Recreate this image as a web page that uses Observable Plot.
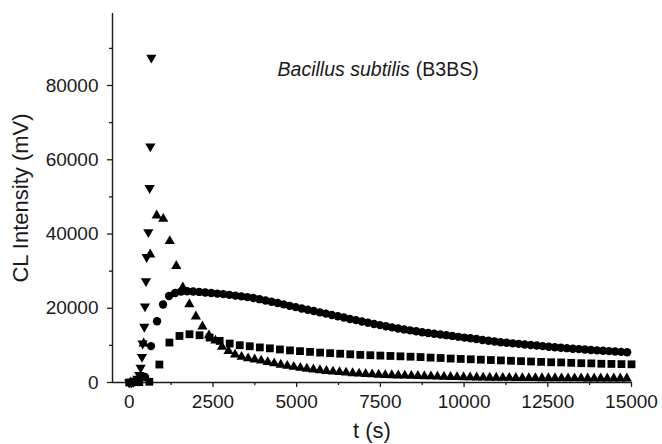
<!DOCTYPE html>
<html>
<head>
<meta charset="utf-8">
<script src="https://cdn.jsdelivr.net/npm/d3@7"></script>
<script src="https://cdn.jsdelivr.net/npm/@observablehq/plot@0.6"></script>
<style>
  html, body { margin: 0; padding: 0; background: #fff; }
  #chart { width: 662px; height: 444px; }
</style>
</head>
<body>
<div id="chart"></div>
<script>
// ---- Data: [t (s), CL intensity (mV)] ----
const squareSeries = [
  [0, 0], [300, 100], [600, 200], [900, 4840], [1200, 10760], [1500, 12540], [1800, 13000],
  [2100, 12730], [2400, 12110], [2700, 11200], [3000, 10490], [3300, 10040], [3600, 9770],
  [3900, 9450], [4200, 9200], [4500, 8900], [4800, 8650], [5100, 8450], [5400, 8250],
  [5700, 8050], [6000, 7900], [6300, 7750], [6600, 7600], [6900, 7450], [7200, 7350],
  [7500, 7250], [7800, 7150], [8100, 7050], [8400, 6950], [8700, 6850], [9000, 6700],
  [9300, 6600], [9600, 6450], [9900, 6350], [10200, 6250], [10500, 6150], [10800, 6050],
  [11100, 5950], [11400, 5850], [11700, 5750], [12000, 5650], [12300, 5550], [12600, 5450],
  [12900, 5400], [13200, 5300], [13500, 5200], [13800, 5150], [14100, 5050], [14400, 5000],
  [14700, 4950], [15000, 4900]
];
const circleSeries = [
  [110, 0], [290, 100], [470, 1500], [650, 9800], [830, 16500], [1010, 21000], [1190, 23300],
  [1370, 24100], [1550, 24500], [1730, 24600], [1910, 24500], [2090, 24400], [2270, 24250],
  [2450, 24100], [2630, 23950], [2810, 23800], [2990, 23600], [3170, 23400], [3350, 23200],
  [3530, 23000], [3710, 22750], [3890, 22450], [4070, 22100], [4250, 21750], [4430, 21400],
  [4610, 21050], [4790, 20650], [4970, 20300], [5150, 19950], [5330, 19600], [5510, 19250],
  [5690, 18900], [5870, 18550], [6050, 18200], [6230, 17850], [6410, 17500], [6590, 17100],
  [6770, 16800], [6950, 16450], [7130, 16100], [7310, 15750], [7490, 15450], [7670, 15150],
  [7850, 14850], [8030, 14550], [8210, 14300], [8390, 14050], [8570, 13800], [8750, 13550],
  [8930, 13350], [9110, 13150], [9290, 12950], [9470, 12750], [9650, 12550], [9830, 12300],
  [10010, 12100], [10190, 11900], [10370, 11700], [10550, 11450], [10730, 11250], [10910, 11050],
  [11090, 10850], [11270, 10700], [11450, 10550], [11630, 10400], [11810, 10250], [11990, 10100],
  [12170, 9950], [12350, 9800], [12530, 9650], [12710, 9500], [12890, 9350], [13070, 9250],
  [13250, 9100], [13430, 9000], [13610, 8900], [13790, 8750], [13970, 8650], [14150, 8550],
  [14330, 8450], [14510, 8350], [14690, 8250], [14870, 8150]
];
const triUpSeries = [
  [40, 0], [235, 200], [430, 10500], [625, 34500], [820, 45000], [1015, 44100], [1210, 38100],
  [1405, 31400], [1600, 25600], [1795, 21100], [1990, 17800], [2185, 15100], [2380, 12700],
  [2575, 11300], [2770, 9600], [2965, 8500], [3160, 7500], [3355, 6900], [3550, 6500],
  [3745, 6200], [3940, 5900], [4135, 5500], [4330, 5150], [4525, 4800], [4720, 4500],
  [4915, 4200], [5110, 3950], [5305, 3700], [5500, 3500], [5695, 3300], [5890, 3100],
  [6085, 2950], [6280, 2800], [6475, 2650], [6670, 2500], [6865, 2400], [7060, 2300],
  [7255, 2200], [7450, 2100], [7645, 2000], [7840, 1950], [8035, 1900], [8230, 1850],
  [8425, 1800], [8620, 1750], [8815, 1700], [9010, 1650], [9205, 1600], [9400, 1550],
  [9595, 1500], [9790, 1450], [9985, 1420], [10180, 1390], [10375, 1360], [10570, 1330],
  [10765, 1300], [10960, 1280], [11155, 1260], [11350, 1240], [11545, 1220], [11740, 1200],
  [11935, 1180], [12130, 1170], [12325, 1160], [12520, 1150], [12715, 1140], [12910, 1130],
  [13105, 1120], [13300, 1110], [13495, 1100], [13690, 1095], [13885, 1090], [14080, 1085],
  [14275, 1080], [14470, 1075], [14665, 1070], [14860, 1070]
];
const triDownSeries = [
  [0, 0], [60, 0], [120, 200], [180, 500], [240, 1000], [300, 2000], [340, 4000], [380, 6900],
  [400, 10500], [450, 15000], [470, 20500], [500, 27300], [520, 33800], [570, 40500],
  [610, 52400], [630, 63600], [660, 87500]
];

const xTicks = [0, 2500, 5000, 7500, 10000, 12500, 15000];
const xMinorTicks = [1250, 3750, 6250, 8750, 11250, 13750];
const yTicks = [0, 20000, 40000, 60000, 80000];
const yMinorTicks = [10000, 30000, 50000, 70000, 90000];

const xDomain = [-500, 15000];
const yDomain = [0, 99400];

const xLabel = "t (s)";
const yLabel = "CL Intensity (mV)";
const titleItalic = "Bacillus subtilis";
const titleRest = "(B3BS)";
const titleAt = {x: 4430, y: 84200, restX: 8560};

// ---- Build ----
const toRows = (arr) => arr.map(([t, v]) => ({t, v}));
const triangleDown = {
  draw(context, size) {
    const y = Math.sqrt(size / (Math.sqrt(3) * 3));
    context.moveTo(0, 2 * y);
    context.lineTo(-Math.sqrt(3) * y, -y);
    context.lineTo(Math.sqrt(3) * y, -y);
    context.closePath();
  }
};

const font = "'Liberation Sans', Arial, Helvetica, sans-serif";
const ink = "#1a1a1a";

const chart = Plot.plot({
  width: 662,
  height: 444,
  marginLeft: 112,
  marginRight: 31,
  marginTop: 13,
  marginBottom: 62,
  style: {fontFamily: font, fontSize: "19px", color: ink, background: "#fff"},
  x: {domain: xDomain},
  y: {domain: yDomain},
  marks: [
    Plot.axisX(xTicks, {tickSize: 5, tickPadding: 7, tickFormat: d => String(d), label: null, fontSize: 19, strokeWidth: 1.3}),
    Plot.axisX(xMinorTicks, {tickSize: 3, tickFormat: () => "", label: null, strokeWidth: 1.3}),
    Plot.axisY(yTicks, {tickSize: 5, tickPadding: 9, tickFormat: d => String(d), label: null, fontSize: 19, strokeWidth: 1.3}),
    Plot.axisY(yMinorTicks, {tickSize: 3, tickFormat: () => "", label: null, strokeWidth: 1.3}),
    Plot.ruleY([0], {stroke: ink, strokeWidth: 1.4}),
    Plot.ruleX([xDomain[0]], {stroke: ink, strokeWidth: 1.4}),
    Plot.dot(toRows(squareSeries), {x: "t", y: "v", symbol: "square", r: 4.4, fill: "#000", stroke: "none"}),
    Plot.dot(toRows(circleSeries), {x: "t", y: "v", symbol: "circle", r: 4.2, fill: "#000", stroke: "none"}),
    Plot.dot(toRows(triUpSeries), {x: "t", y: "v", symbol: "triangle", r: 3.8, fill: "#000", stroke: "none"}),
    Plot.dot(toRows(triDownSeries), {x: "t", y: "v", symbol: triangleDown, r: 3.8, fill: "#000", stroke: "none"}),
    Plot.text([titleItalic], {x: () => titleAt.x, y: () => titleAt.y, text: d => d, textAnchor: "start", fontSize: 19.5, fontStyle: "italic", fill: ink}),
    Plot.text([titleRest], {x: () => titleAt.restX, y: () => titleAt.y, text: d => d, textAnchor: "start", fontSize: 19.5, fill: ink}),
    Plot.text([xLabel], {frameAnchor: "bottom", dy: 55, text: d => d, fontSize: 22, fill: ink}),
    Plot.text([yLabel], {frameAnchor: "left", textAnchor: "middle", dx: -92, rotate: -90, text: d => d, fontSize: 22, fill: ink})
  ]
});
document.getElementById("chart").appendChild(chart);
</script>
</body>
</html>
